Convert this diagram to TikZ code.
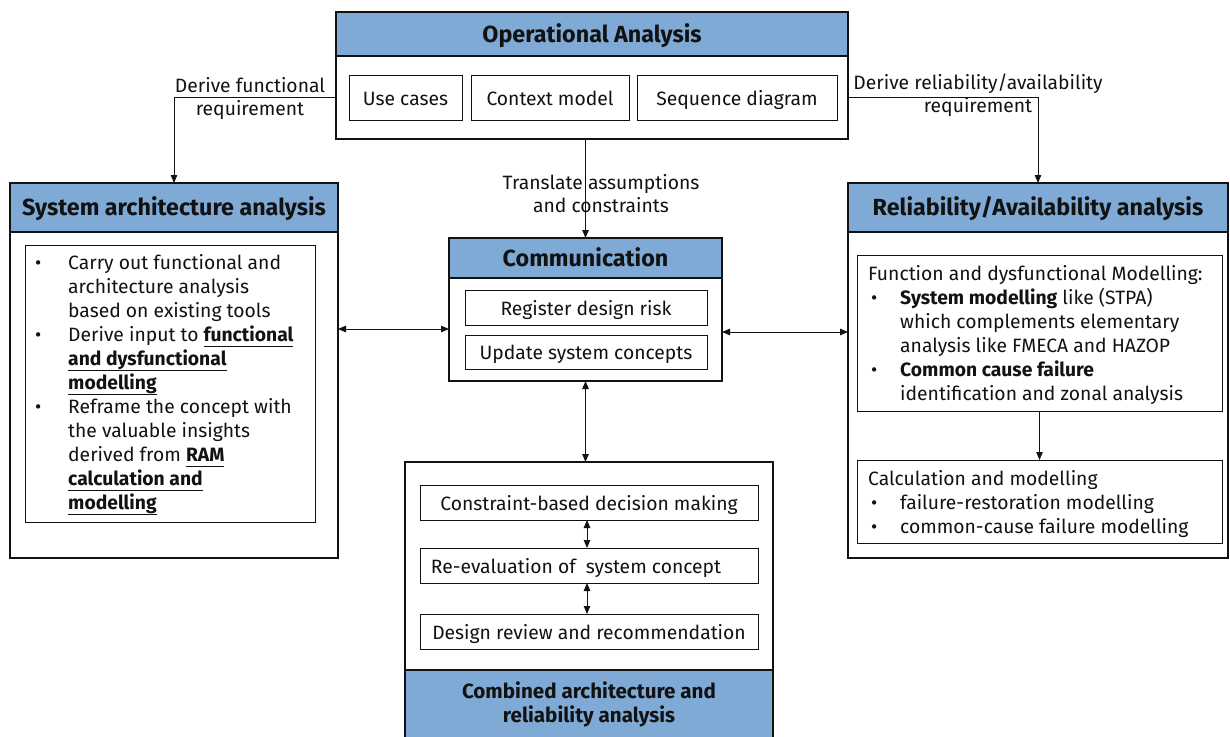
\documentclass[tikz,border=0pt]{standalone}
\usepackage{fontspec}
\setmainfont{Fira Sans}
\usetikzlibrary{arrows.meta}
\definecolor{hdrblue}{RGB}{127,170,214}
\definecolor{ink}{RGB}{18,18,18}
\newcommand\bodyfont{\fontsize{19.3}{24}\selectfont}
\newcommand\headfont{\fontsize{23.3}{24}\selectfont\bfseries}
\newcommand\smallheadfont{\fontsize{20.6}{24}\selectfont\bfseries}
\newcommand\ulbf[1]{\underline{\smash{\textbf{#1}}\vphantom{g}}}
\begin{document}
\begin{tikzpicture}[x=1pt, y=-1pt,
  outerbox/.style={draw=ink, line width=2.6pt, fill=white, inner sep=0pt, outer sep=0pt, anchor=north west},
  hdrbox/.style={draw=ink, line width=2.6pt, fill=hdrblue, inner sep=0pt, outer sep=0pt, anchor=north west, font=\headfont, text=ink, text height=17pt, text depth=1pt},
  inbox/.style={draw=ink, line width=1pt, fill=white, inner sep=0pt, outer sep=0pt, anchor=north west, font=\bodyfont, text=ink, text height=16pt, text depth=1pt},
  lbl/.style={font=\bodyfont, text=ink, align=center, inner sep=0pt},
  txt/.style={font=\bodyfont, text=ink, inner sep=0pt, anchor=base west},
  arr/.style={draw=ink, line width=1pt, -{Triangle[length=8pt,width=6.5pt]}},
  darr/.style={draw=ink, line width=1pt, {Triangle[length=8pt,width=6.5pt]}-{Triangle[length=8pt,width=6.5pt]}}]
\useasboundingbox (0,0) rectangle (1230,736);
\clip (0,0) rectangle (1230,736);

% Operational analysis
\node[outerbox, minimum width=512pt, minimum height=127pt] (oa) at (336,12) {};
\node[hdrbox, minimum width=512pt, minimum height=44pt] (oah) at (336,12) {Operational Analysis};
\node[inbox, minimum width=113pt, minimum height=45pt] (uc) at (349,75) {Use cases};
\node[inbox, minimum width=158pt, minimum height=45pt] (cm) at (471,75) {Context model};
\node[inbox, minimum width=200pt, minimum height=45pt] (sd) at (637,75) {Sequence diagram};

% System architecture analysis
\node[outerbox, minimum width=328pt, minimum height=375pt] (sa) at (10,183) {};
\node[hdrbox, minimum width=328pt, minimum height=49pt] (sah) at (10,183) {System architecture analysis};
\node[inbox, minimum width=290pt, minimum height=277pt] (sai) at (25,245) {};
\node[txt] (sat) at (35,269) {\begin{tabular}[t]{@{}p{33pt}@{}l@{}}
\textbullet & Carry out functional and\\
 & architecture analysis\\
 & based on existing tools\\
\textbullet & Derive input to \ulbf{functional}\\
 & \ulbf{and dysfunctional}\\
 & \ulbf{modelling}\\
\textbullet & Reframe the concept with\\
 & the valuable insights\\
 & derived from \ulbf{RAM}\\
 & \ulbf{calculation and}\\
 & \ulbf{modelling}
\end{tabular}};

% Reliability/availability analysis
\node[outerbox, minimum width=380pt, minimum height=375pt] (ra) at (848,183) {};
\node[hdrbox, minimum width=380pt, minimum height=49pt] (rah) at (848,183) {Reliability/Availability analysis};
\node[inbox, minimum width=365pt, minimum height=156pt] (rb1) at (857,255) {};
\node[inbox, minimum width=365pt, minimum height=83pt] (rb2) at (857,460) {};
\node[txt] (rt1) at (868,280) {\begin{tabular}[t]{@{}p{32pt}@{}l@{}}
\multicolumn{2}{@{}l@{}}{Function and dysfunctional Modelling:}\\
\hspace*{3pt}\textbullet & \textbf{System modelling} like (STPA)\\
 & which complements elementary\\
 & analysis like FMECA and HAZOP\\
\hspace*{3pt}\textbullet & \textbf{Common cause failure}\\
 & identification and zonal analysis
\end{tabular}};
\node[txt] (rt2) at (868,485) {\begin{tabular}[t]{@{}p{32pt}@{}l@{}}
\multicolumn{2}{@{}l@{}}{Calculation and modelling}\\
\hspace*{3pt}\textbullet & failure-restoration modelling\\
\hspace*{3pt}\textbullet & common-cause failure modelling
\end{tabular}};
\draw[arr] (rb1.south) -- (rb2.north);

% Communication
\node[outerbox, minimum width=273pt, minimum height=143pt] (co) at (449,238) {};
\node[hdrbox, minimum width=273pt, minimum height=40pt] (coh) at (449,238) {Communication};
\node[inbox, minimum width=242pt, minimum height=35pt] (c1) at (465,290) {Register design risk};
\node[inbox, minimum width=242pt, minimum height=34pt] (c2) at (465,335) {Update system concepts};

% Combined architecture and reliability analysis
\node[outerbox, minimum width=368pt, minimum height=300pt] (cb) at (405,462) {};
\node[hdrbox, minimum width=368pt, minimum height=90pt] (cbh) at (405,670) {};
\node[lbl, font=\smallheadfont] (cbt) at (589,704) {Combined architecture and\\reliability analysis};
\node[inbox, minimum width=338pt, minimum height=35pt] (d1) at (420,485) {Constraint-based decision making};
\node[inbox, minimum width=338pt, minimum height=35pt] (d2) at (420,548) {Re-evaluation of\ \ system concept\hspace*{26pt}};
\node[inbox, minimum width=338pt, minimum height=35pt] (d3) at (420,614) {Design review and recommendation};
\draw[darr] ([xshift=-2pt]d1.south) -- ([xshift=-2pt]d2.north);
\draw[darr] ([xshift=-2pt]d2.south) -- ([xshift=-2pt]d3.north);

% Connectors between the analyses
\coordinate (fl) at (336,97);
\coordinate (fr) at (848,97);
\coordinate (lm) at (338,329);
\coordinate (rm) at (722,332);
\draw[arr] (oa.west |- fl) -| (sa.north);
\draw[arr] (oa.east |- fr) -| (ra.north);
\draw[arr] (co.north |- oa.south) -- (co.north);
\draw[darr] (sa.east |- lm) -- (co.west |- lm);
\draw[darr] (co.east |- rm) -- (ra.west |- rm);
\draw[darr] (co.south) -- (co.south |- cb.north);

% Connector labels
\node[lbl] (lfun) at (250,98.5) {Derive functional\\[-1pt]requirement};
\node[lbl] (lrel) at (978,95.5) {Derive reliability/availability\\[-1pt]requirement};
\node[lbl] (ltra) at (601,193.5) {Translate assumptions\\[-1pt]and constraints};
\end{tikzpicture}
\end{document}
